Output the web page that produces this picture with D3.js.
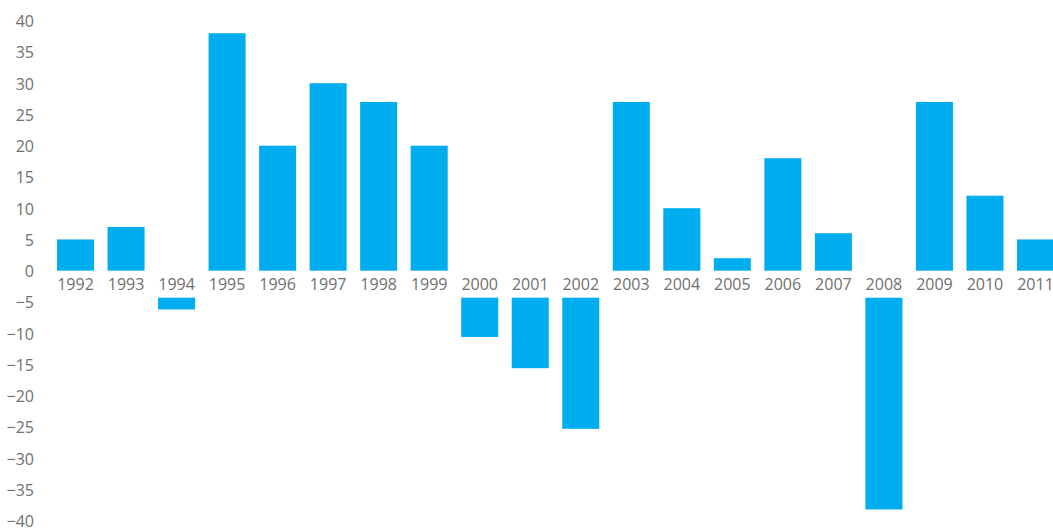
<!DOCTYPE html>
<html>
<head>
<meta charset="utf-8">
<script src="https://cdn.jsdelivr.net/npm/d3@7"></script>
<style>
  html, body { margin: 0; padding: 0; background: #fff; }
  svg { display: block; }
  text { font-family: "Open Sans", "Noto Sans", sans-serif; fill: #707070; }
</style>
</head>
<body>
<svg id="chart" width="1053" height="529"></svg>
<script>
const years = ["1992","1993","1994","1995","1996","1997","1998","1999","2000","2001","2002","2003","2004","2005","2006","2007","2008","2009","2010","2011"];
const values = [5, 7, -6.2, 38, 20, 30, 27, 20, -10.6, -15.6, -25.3, 27, 10, 2, 18, 6, -38.2, 27, 12, 5];
const yTicks = [40, 35, 30, 25, 20, 15, 10, 5, 0, -5, -10, -15, -20, -25, -30, -35, -40];

const svg = d3.select("#chart");

const x = d3.scaleBand().domain(years).range([57, 1054]).paddingInner(0.267).paddingOuter(0);
const y = d3.scaleLinear().domain([-40, 40]).range([520.7, 20.7]);
const labelGap = 27;

// Y axis labels
const yAxis = d3.axisLeft(y).tickValues(yTicks).tickSize(0).tickPadding(0);
const gy = svg.append("g").attr("transform", "translate(34,0.8)").call(yAxis);
gy.select(".domain").remove();
gy.selectAll("text").attr("font-size", 16).attr("font-family", null).attr("fill", null).style("fill", "#707070");

// Bars
svg.append("g").selectAll("rect").data(values).join("rect")
  .attr("x", (d, i) => x(years[i]))
  .attr("width", x.bandwidth())
  .attr("y", d => d >= 0 ? y(d) : y(0) + labelGap)
  .attr("height", d => d >= 0 ? y(0) - y(d) : y(d) - (y(0) + labelGap))
  .attr("fill", "#00AEEF");

// Category labels
const xAxis = d3.axisBottom(x).tickSize(0).tickPadding(0);
const gx = svg.append("g").attr("transform", `translate(0,${y(0) + 6})`).call(xAxis);
gx.select(".domain").remove();
gx.selectAll("text").attr("font-size", 16).attr("font-family", null).attr("fill", null).style("fill", "#707070").attr("dy", "0.8em");
</script>
</body>
</html>
